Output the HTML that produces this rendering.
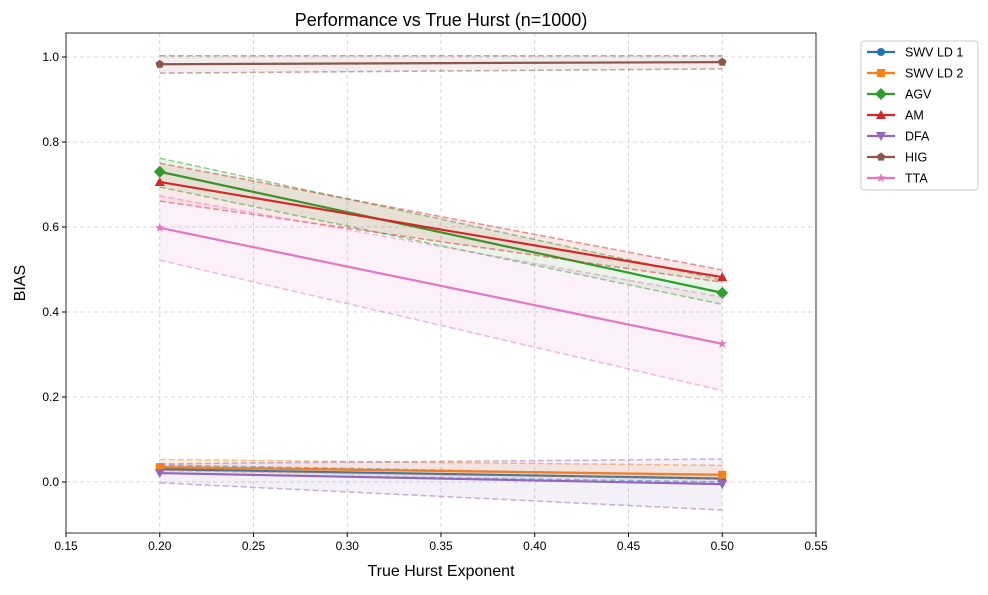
<!DOCTYPE html>
<html><head><meta charset="utf-8"><style>
body{margin:0;background:#fff;font-family:"Liberation Sans",sans-serif}
svg text{font-family:"Liberation Sans",sans-serif}
</style></head><body>
<svg id="c" width="988" height="590"></svg>
<script>
const xs=[0.2,0.5];
const names=["SWV LD 1","SWV LD 2","AGV","AM","DFA","HIG","TTA"];
const colors=["#1f77b4","#ff7f0e","#2ca02c","#d62728","#9467bd","#8c564b","#e377c2"];
const meanV=[[0.030,0.008],[0.035,0.017],[0.730,0.445],[0.706,0.482],[0.021,-0.005],[0.983,0.988],[0.598,0.325]];
const upperV=[[0.040,0.016],[0.053,0.039],[0.762,0.475],[0.750,0.499],[0.043,0.054],[1.003,1.003],[0.673,0.435]];
const lowerV=[[0.020,0.000],[0.027,0.007],[0.694,0.418],[0.661,0.470],[-0.002,-0.066],[0.962,0.972],[0.522,0.215]];
const xTicks=[0.15,0.20,0.25,0.30,0.35,0.40,0.45,0.50,0.55];
const yTicks=[0.0,0.2,0.4,0.6,0.8,1.0];
const L=66,R=816,T=33,B=533;
const X=v=>L+(v-0.15)/0.4*(R-L);
const Y=v=>482-v*425;
const s=document.getElementById('c');const NS='http://www.w3.org/2000/svg';
function el(t,a,p){const e=document.createElementNS(NS,t);for(const k in a)e.setAttribute(k,a[k]);(p||s).appendChild(e);return e;}
const g=el('g',{});


xTicks.forEach(v=>{el('line',{x1:X(v),x2:X(v),y1:T,y2:B,stroke:'#ccc','stroke-dasharray':'4,3','stroke-width':0.8},g);
const t=el('text',{x:X(v),y:B+17,'text-anchor':'middle','font-size':12});t.textContent=v.toFixed(2);

});
yTicks.forEach(v=>{el('line',{x1:L,x2:R,y1:Y(v),y2:Y(v),stroke:'#ccc','stroke-dasharray':'4,3','stroke-width':0.8},g);
const t=el('text',{x:L-7,y:Y(v)+4,'text-anchor':'end','font-size':12});t.textContent=v.toFixed(1);

});
function marker(i,x,y,p){const c=colors[i];
 if(i==0)el('circle',{cx:x,cy:y,r:4,fill:c},p);
 else if(i==1)el('rect',{x:x-4,y:y-4,width:8,height:8,fill:c},p);
 else if(i==2)el('polygon',{points:`${x},${y-6} ${x+6},${y} ${x},${y+6} ${x-6},${y}`,fill:c},p);
 else if(i==3)el('polygon',{points:`${x},${y-5} ${x+5},${y+4} ${x-5},${y+4}`,fill:c},p);
 else if(i==4)el('polygon',{points:`${x},${y+5} ${x+5},${y-4} ${x-5},${y-4}`,fill:c},p);
 else if(i==5){let pts=[];for(let k=0;k<5;k++){const a=-Math.PI/2+k*2*Math.PI/5;pts.push((x+4.5*Math.cos(a))+','+(y+4.5*Math.sin(a)));}el('polygon',{points:pts.join(' '),fill:c},p);}
 else {let pts=[];for(let k=0;k<10;k++){const a=-Math.PI/2+k*Math.PI/5,r=k%2?2:5;pts.push((x+r*Math.cos(a))+','+(y+r*Math.sin(a)));}el('polygon',{points:pts.join(' '),fill:c},p);}
}
names.forEach((n,i)=>{const sg=el('g',{});
 
 
 const c=colors[i];
 const band=xs.map((x,j)=>X(x)+','+Y(upperV[i][j])).concat(xs.slice().reverse().map((x,j)=>X(x)+','+Y(lowerV[i][xs.length-1-j]))).join(' ');
 el('polygon',{points:band,fill:c,'fill-opacity':0.1},sg);
 [upperV[i],lowerV[i]].forEach(arr=>el('polyline',{points:xs.map((x,j)=>X(x)+','+Y(arr[j])).join(' '),fill:'none',stroke:c,'stroke-opacity':0.5,'stroke-dasharray':'6,3','stroke-width':1.5},sg));
 el('polyline',{points:xs.map((x,j)=>X(x)+','+Y(meanV[i][j])).join(' '),fill:'none',stroke:c,'stroke-width':2.2},sg);
 xs.forEach((x,j)=>marker(i,X(x),Y(meanV[i][j]),sg));
});
el('rect',{x:L,y:T,width:R-L,height:B-T,fill:'none',stroke:'#000','stroke-width':0.8});
xTicks.forEach(v=>el('line',{x1:X(v),x2:X(v),y1:B,y2:B+4,stroke:'#000'}));
yTicks.forEach(v=>el('line',{x1:L-4,x2:L,y1:Y(v),y2:Y(v),stroke:'#000'}));
let t=el('text',{x:441,y:26,'text-anchor':'middle','font-size':18});t.textContent='Performance vs True Hurst (n=1000)';

t=el('text',{x:441,y:576,'text-anchor':'middle','font-size':16});t.textContent='True Hurst Exponent';

t=el('text',{x:25,y:283,'text-anchor':'middle','font-size':16,transform:'rotate(-90 25 283)'});t.textContent='BIAS';

const lg=el('g',{});


el('rect',{x:861,y:41,width:117,height:149,rx:3,fill:'#fff',stroke:'#ccc'},lg);
names.forEach((n,i)=>{const y=52+i*21;const eg=el('g',{},lg);
 
 
 el('line',{x1:867,x2:895,y1:y,y2:y,stroke:colors[i],'stroke-width':2.2},eg);marker(i,881,y,eg);
 const tt=el('text',{x:905,y:y+4.5,'font-size':12.5},eg);tt.textContent=n;});
</script>
</body></html>
